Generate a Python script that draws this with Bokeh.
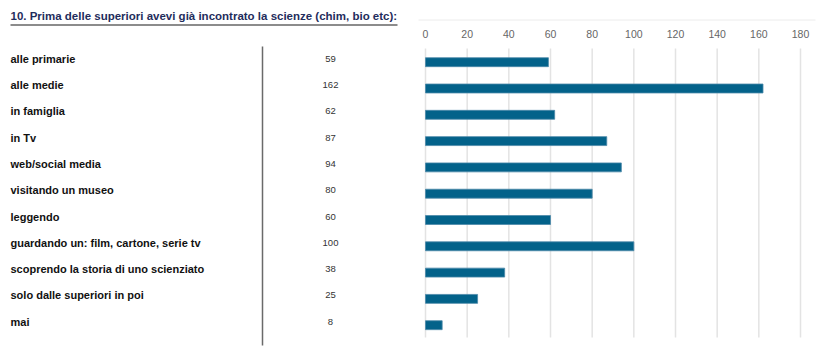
from bokeh.plotting import figure
from bokeh.models import Range1d, ColumnDataSource
from bokeh.core.properties import value
from bokeh.embed import file_html
from bokeh.resources import INLINE

# ---- data ----
title_text = "10. Prima delle superiori avevi già incontrato la scienze (chim, bio etc):"
categories = [
    "alle primarie",
    "alle medie",
    "in famiglia",
    "in Tv",
    "web/social media",
    "visitando un museo",
    "leggendo",
    "guardando un: film, cartone, serie tv",
    "scoprendo la storia di uno scienziato",
    "solo dalle superiori in poi",
    "mai",
]
counts = [59, 162, 62, 87, 94, 80, 60, 100, 38, 25, 8]
ticks = [0, 20, 40, 60, 80, 100, 120, 140, 160, 180]

# ---- layout (pixels of the picture) ----
W, H = 819, 351
OX, OY = 0, 0
X0_PX, X180_PX = 425, 800    # where 0 and 180 fall
ROW0_PX, ROW_STEP = 61.7, 26.3
FONT = "Liberation Sans"

kx = (X180_PX - X0_PX) / 180.0


def sx(px):
    return (px - X0_PX) / kx


def sy(px):
    return (px - ROW0_PX) / ROW_STEP


x_range = Range1d(sx(OX), sx(OX + W))
y_range = Range1d(sy(OY + H), sy(OY))

p = figure(width=W, height=H, x_range=x_range, y_range=y_range,
           output_backend="svg", toolbar_location=None,
           min_border=0, min_border_left=0, min_border_right=0,
           min_border_top=0, min_border_bottom=0)
p.axis.visible = False
p.grid.visible = False
p.outline_line_color = None
p.background_fill_color = "white"

idx = list(range(len(categories)))
src = ColumnDataSource(dict(y=idx, right=counts, cat=categories,
                            val=[str(v) for v in counts]))

# title + underline
p.text(x=[sx(10)], y=[sy(15)], text=[title_text], text_font=value(FONT),
       text_font_size="11.5px", text_font_style="bold", text_color="#1f2d5c",
       text_baseline="middle", text_align="left")
p.segment(x0=[sx(10)], x1=[sx(397)], y0=[sy(24.5)], y1=[sy(24.5)],
          line_color="#8c8c8c", line_width=2)

# light line above the axis labels
p.segment(x0=[sx(418)], x1=[sx(815)], y0=[sy(19.5)], y1=[sy(19.5)],
          line_color="#ececec", line_width=1)

# tick labels
p.text(x=ticks, y=[sy(33)] * len(ticks), text=[str(t) for t in ticks],
       text_font=value(FONT), text_font_size="10.5px", text_color="#666666",
       text_align="center", text_baseline="middle")

# grid lines
p.segment(x0=ticks, x1=ticks, y0=[sy(48)] * len(ticks), y1=[sy(337)] * len(ticks),
          line_color="#e3e3e3", line_width=1.5)

# separator line of the table
p.segment(x0=[sx(262)], x1=[sx(262)], y0=[sy(46)], y1=[sy(345)],
          line_color="#6a6a6a", line_width=1.5)

# bars
p.hbar(y="y", left=0, right="right", height=0.34, source=src,
       fill_color="#03628a", line_color="#4b88a8", line_width=0.8)

# category labels and values
p.text(x=sx(10), y="y", text="cat", source=src, text_font=value(FONT),
       text_font_size="11px", text_font_style="bold", text_color="#111111",
       text_align="left", text_baseline="middle", y_offset=-3.5)
p.text(x=sx(330), y="y", text="val", source=src, text_font=value(FONT),
       text_font_size="9.5px", text_color="#333333",
       text_align="center", text_baseline="middle", y_offset=-3.5)

open("out.html", "w").write(file_html(p, INLINE))
